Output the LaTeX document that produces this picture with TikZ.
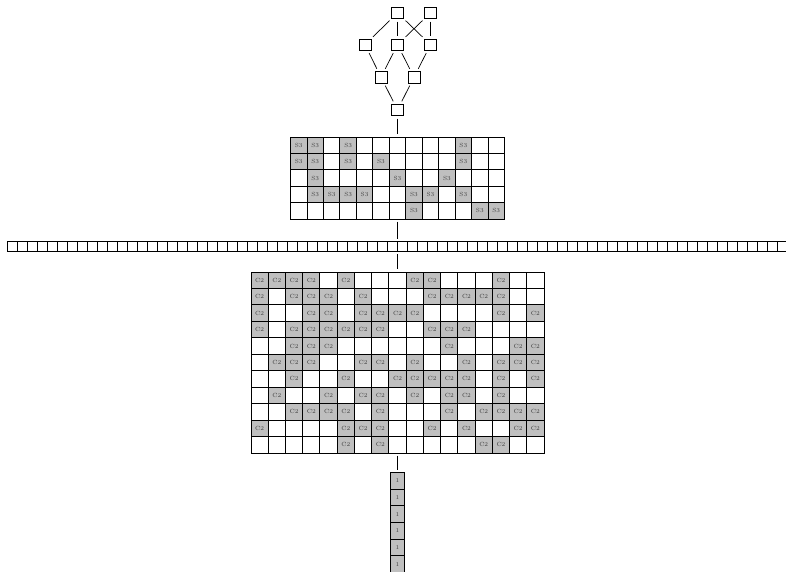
\documentclass[tikz,border=0pt]{standalone}
\usetikzlibrary{fit}
\definecolor{cellgray}{gray}{0.75}

\begin{document}
\begin{tikzpicture}[x=1pt, y=-1pt,
  every node/.style={font=\fontsize{6}{7}\selectfont, text=black!75},
  latbox/.style={draw, rectangle, minimum size=11.8pt, inner sep=0pt, line width=0.6pt},
  gridcell/.style={draw, rectangle, inner sep=0pt, outer sep=0pt, line width=0.9pt},
  tone0/.style={},
  tone1/.style={fill=cellgray},
  link/.style={line width=0.7pt, shorten <=2.5pt, shorten >=2.5pt}]
  \useasboundingbox (0,0) rectangle (786,571);

  % Subgroup lattice
  \node[latbox] (top1) at (397.5,12.8) {};
  \node[latbox] (top2) at (430.5,12.8) {};
  \node[latbox] (mid1) at (365,44.7) {};
  \node[latbox] (mid2) at (397.5,44.7) {};
  \node[latbox] (mid3) at (430.5,44.7) {};
  \node[latbox] (low1) at (381,77.2) {};
  \node[latbox] (low2) at (414,77.2) {};
  \node[latbox] (bot) at (397.5,109.8) {};

  \draw[link] (top1) -- (mid1);
  \draw[link] (top1) -- (mid2);
  \draw[link] (top1) -- (mid3);
  \draw[link] (top2) -- (mid2);
  \draw[link] (top2) -- (mid3);
  \draw[link] (mid1) -- (low1);
  \draw[link] (mid2) -- (low1);
  \draw[link] (mid2) -- (low2);
  \draw[link] (mid3) -- (low2);
  \draw[link] (low1) -- (bot);
  \draw[link] (low2) -- (bot);

  % S3 grid
  \foreach \row [count=\r] in {
      {1,1,0,1,0,0,0,0,0,0,1,0,0},
      {1,1,0,1,0,1,0,0,0,0,1,0,0},
      {0,1,0,0,0,0,1,0,0,1,0,0,0},
      {0,1,1,1,1,0,0,1,1,0,1,0,0},
      {0,0,0,0,0,0,0,1,0,0,0,1,1}} {
    \foreach \v [count=\c] in \row {
      \node[gridcell, tone\v, minimum width=16.46pt, minimum height=16.4pt]
        (s3-\r-\c) at ({397.5+16.46*(\c-7)}, {137+16.4*(\r-0.5)}) {\ifnum\v=1 S3\fi};
    }
  }
  \node[fit=(s3-1-1)(s3-5-13), inner sep=0pt] (s3grid) {};

  % Long row
  \foreach \i in {1,...,78} {
    \node[gridcell, minimum width=10pt, minimum height=10pt]
      (row-\i) at ({397.5+10*(\i-39.5)}, 246.3) {};
  }
  \node[fit=(row-1)(row-78), inner sep=0pt] (longrow) {};

  % C2 grid
  \foreach \row [count=\r] in {
      {1,1,1,1,0,1,0,0,0,1,1,0,0,0,1,0,0},
      {1,0,1,1,1,0,1,0,0,0,1,1,1,1,1,0,0},
      {1,0,0,1,1,0,1,1,1,1,0,0,0,0,1,0,1},
      {1,0,1,1,1,1,1,1,0,0,1,1,1,0,0,0,0},
      {0,0,1,1,1,0,0,0,0,0,0,1,0,0,0,1,1},
      {0,1,1,1,0,0,1,1,0,1,0,0,1,0,1,1,1},
      {0,0,1,0,0,1,0,0,1,1,1,1,1,0,1,0,1},
      {0,1,0,0,1,0,1,1,0,1,0,1,1,0,1,0,0},
      {0,0,1,1,1,1,0,1,0,0,0,1,0,1,1,1,1},
      {1,0,0,0,0,1,1,1,0,0,1,0,1,0,0,1,1},
      {0,0,0,0,0,1,0,1,0,0,0,0,0,1,1,0,0}} {
    \foreach \v [count=\c] in \row {
      \node[gridcell, tone\v, minimum width=17.24pt, minimum height=16.45pt]
        (c2-\r-\c) at ({397.5+17.24*(\c-9)}, {272+16.45*(\r-0.5)}) {\ifnum\v=1 C2\fi};
    }
  }
  \node[fit=(c2-1-1)(c2-11-17), inner sep=0pt] (c2grid) {};

  % Trivial column
  \foreach \i in {1,...,6} {
    \node[gridcell, tone1, minimum width=13.6pt, minimum height=16.7pt]
      (one-\i) at (397.5, {472.3+16.7*(\i-0.5)}) {1};
  }
  \node[fit=(one-1)(one-6), inner sep=0pt] (onecol) {};

  % Links between levels
  \draw[link] (bot) -- (s3grid);
  \draw[link] (s3grid) -- (longrow);
  \draw[link] (longrow) -- (c2grid);
  \draw[link] (c2grid) -- (onecol);
\end{tikzpicture}
\end{document}
